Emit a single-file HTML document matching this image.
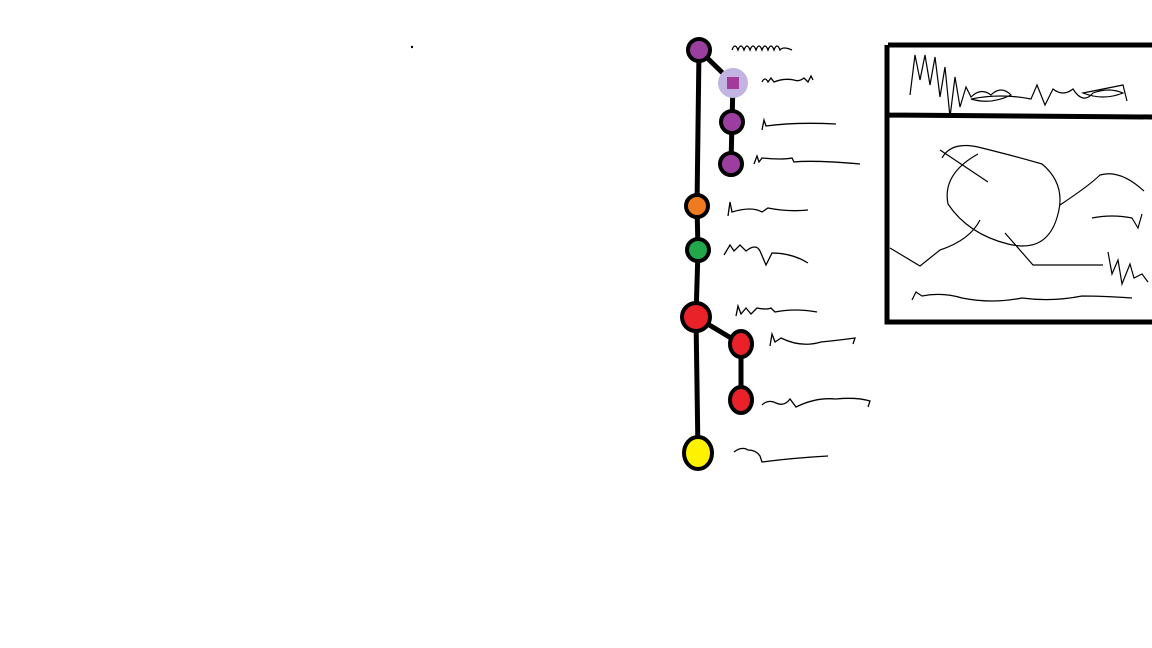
<!DOCTYPE html>
<html><head><meta charset="utf-8"><style>
html,body{margin:0;padding:0;background:#fff;width:1152px;height:648px;overflow:hidden}
svg{display:block}
</style></head><body>
<svg id="s" width="1152" height="648" viewBox="0 0 1152 648" xmlns="http://www.w3.org/2000/svg">
<circle cx="412" cy="47" r="1.2" fill="#000"/>
<g stroke="#000" stroke-width="5" fill="none" stroke-linecap="round">
<path d="M699 50 L697 206 L698 250 L696 317 L698 453"/>
<path d="M699 50 L733 83 L732 122 L731 164"/>
<path d="M696 317 L741 344 L741 400"/>
</g>
<g id="nodes"></g>
<g stroke="#000" stroke-width="1.3" fill="none">
<path d="M732 50 q3-8 6 0 q3-8 6 0 q3-8 6 0 q3-8 6 0 q3-8 6 0 q3-8 6 0 q3-8 6 0 q3-8 6 0 q3-4 12 0"/>
<path d="M762 82 q3-6 6 0 l3-4 l3 4 q10-4 20-2 q5 2 10 -2 l4 4 l3-6 l2 4"/>
<path d="M762 130 l2-10 l2 6 q30-4 70-2"/>
<path d="M754 164 l3-8 l2 6 l3-4 q20 2 30 0 l2 4 q20-2 66 2"/>
<path d="M728 216 l2-14 l2 10 q20-6 30 0 l6-4 q20 4 40 2"/>
<path d="M724 255 l6-10 l4 6 l6-6 l6 6 q10-8 14 0 l6 14 l6-12 q20 0 36 10"/>
<path d="M736 316 l2-10 l3 8 l5-6 l5 6 l6-6 q10 2 14 0 l4 4 q20-4 42 0"/>
<path d="M770 346 l2-12 l3 8 l6-4 q20 10 40 4 q20-2 34-4 l-2 6"/>
<path d="M762 405 q6-6 14-2 q8 4 14-4 l6 8 q20-10 40-8 q20-2 34 2 l-2 6"/>
<path d="M734 452 q8-6 14-2 q8 0 12 6 l2 6 q30-4 66-6"/>
</g>
<g stroke="#000" fill="none">
<path stroke-width="5" d="M888 45 L1152 45 M887 45 L887 322 L1152 322 M887 115 L1152 117"/>
<path stroke-width="1.2" d="M910 95 l5-40 l5 25 l5-25 l5 30 l5-28 l5 40 l5-30 l5 50 l5-40 l5 30 l6-20 l5 10 q10-10 20-2 q10-10 20 0 q-20 10-40 4 q30-6 60 0 l6-14 l8 20 l8-16 q10 8 20 0 q10 16 20 4 q16-6 30 0 q-20 8-40 0 q20-4 40-8 l4 16"/>
<path stroke-width="1.2" d="M942 158 q10-18 40-10 q40 10 60 16 q24 20 16 50 q-10 40-50 30 q-40-10-60-40 q-6-30 30-50 M940 150 l48 32 M1060 205 q30-20 40-30 q20-6 44 16 M890 248 l30 18 l20-16 q30-10 40-30 M1005 233 l28 32 l70 0 M1108 252 l4 22 l6-14 l4 24 l8-20 l4 14 l8-4 l6 8 M1092 218 q20-4 40 0 l6 10 l4-14 M912 300 l4-8 l6 4 q20-4 40 2 q30 6 60 0 q30 4 60-2 q20 0 50 2"/>
</g>
</svg>
<script>
const nodeNames=['c1','c2','c3','c4','c5','c6','c7','c8','c9','c10'];
const nodeX=[699,733,732,731,697,698,696,741,741,698];
const nodeY=[50,83,122,164,206,250,317,344,400,453];
const nodeColors=['#9b3ea0','#c2b4e0','#9b3ea0','#9b3ea0','#f07b1e','#22a84a','#e82228','#e82228','#e82228','#fff200'];
const g=document.getElementById('nodes');
const NS='http://www.w3.org/2000/svg';
for(let i=0;i<nodeNames.length;i++){
  const e=document.createElementNS(NS,'ellipse');
  const big=i===6, yel=i===9, blob=i===1;
  e.setAttribute('cx',nodeX[i]);e.setAttribute('cy',nodeY[i]);
  e.setAttribute('rx',big?14:yel?14:blob?15:11);
  e.setAttribute('ry',big?14:yel?16:blob?15:(i>=7&&i<=8?13:11));
  e.setAttribute('fill',nodeColors[i]);
  e.setAttribute('stroke',blob?'none':'#000');
  e.setAttribute('stroke-width',4);
  
  
  g.appendChild(e);
  if(blob){
    const d=document.createElementNS(NS,'rect');
    d.setAttribute('x',nodeX[i]-6);d.setAttribute('y',nodeY[i]-6);
    d.setAttribute('width',12);d.setAttribute('height',12);
    d.setAttribute('fill','#a23a9a');
    
    
    g.appendChild(d);
  }
}
</script>
</body></html>
